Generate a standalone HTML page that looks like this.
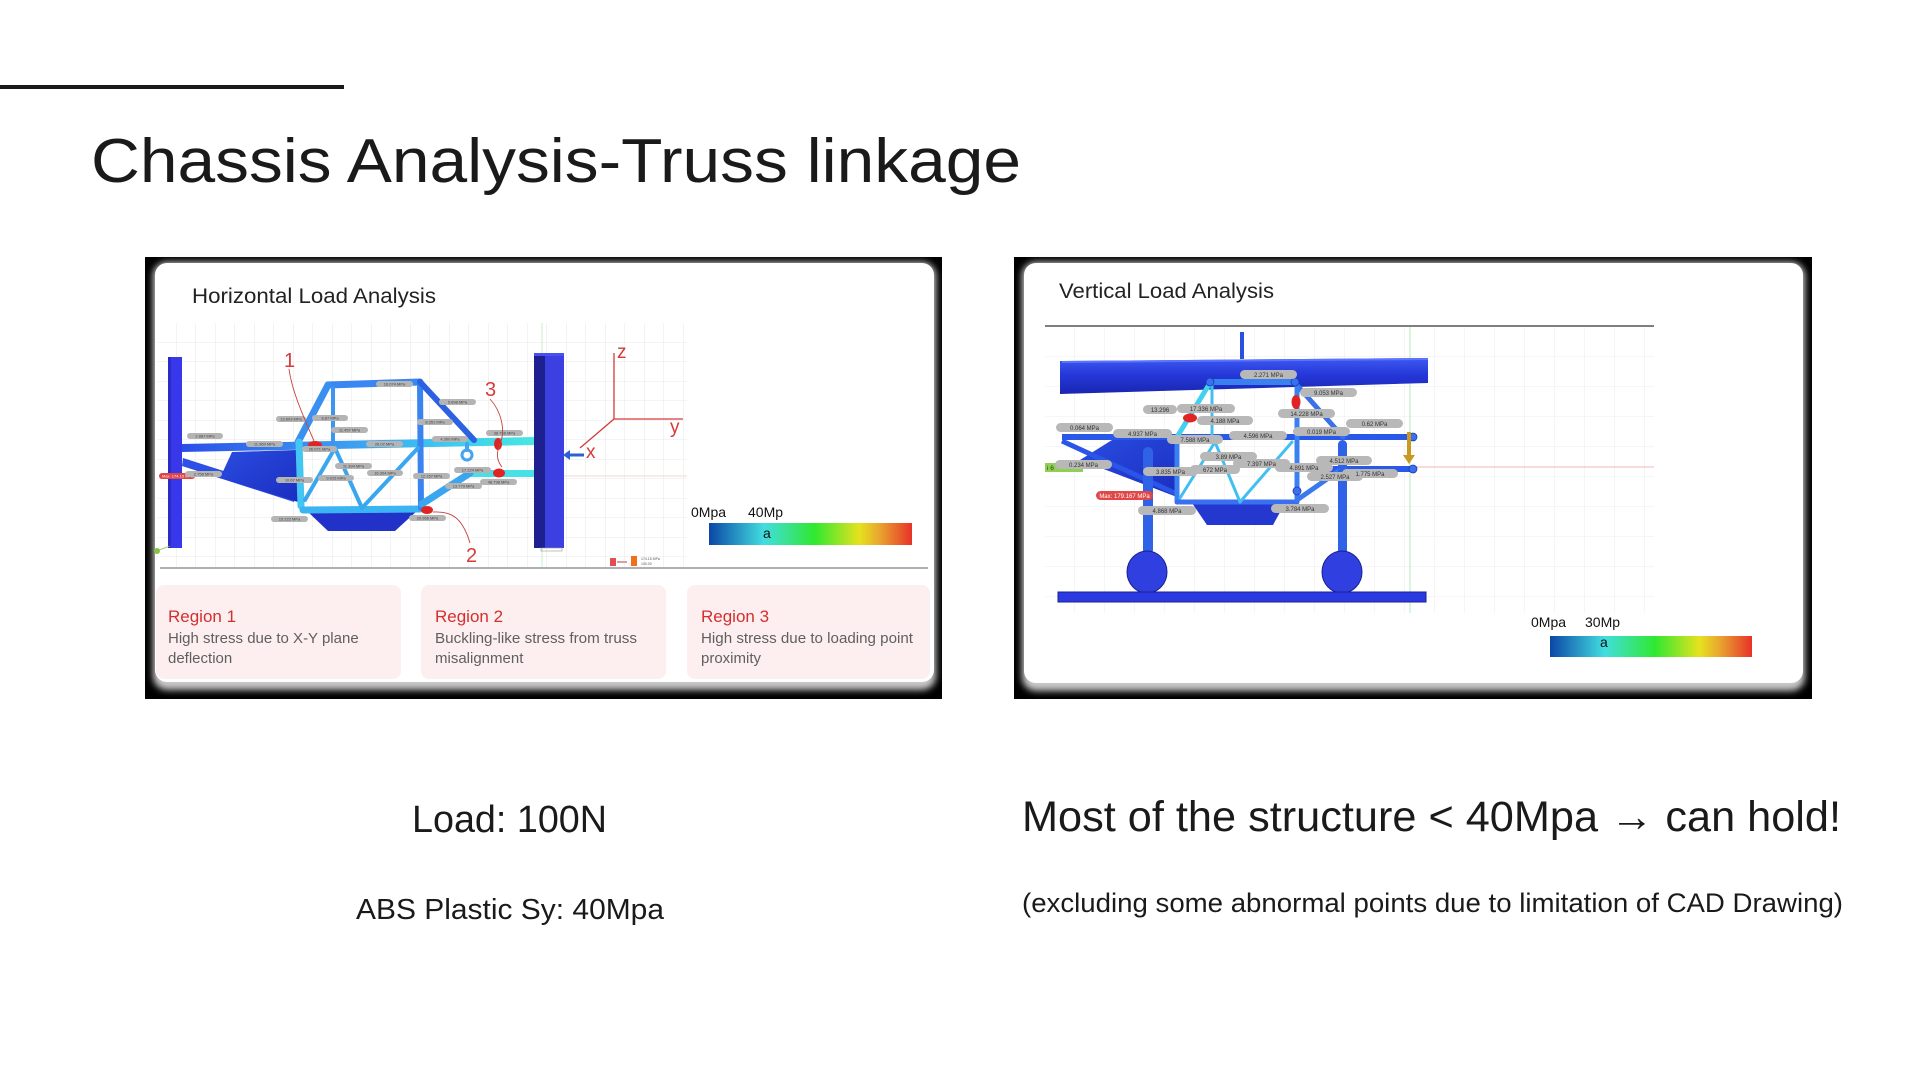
<!DOCTYPE html>
<html><head><meta charset="utf-8"><style>
html,body{margin:0;padding:0;background:#fff;}
body{width:1920px;height:1080px;overflow:hidden;}
svg{display:block;font-family:"Liberation Sans",Arial,sans-serif;}
</style></head><body>
<svg width="1920" height="1080" viewBox="0 0 1920 1080" xmlns="http://www.w3.org/2000/svg">
<defs>
  <filter id="glow" x="-5%" y="-5%" width="110%" height="115%"><feGaussianBlur stdDeviation="3.5"/></filter>
  <linearGradient id="cbar" x1="0" y1="0" x2="1" y2="0">
    <stop offset="0" stop-color="#0b47a6"/>
    <stop offset="0.27" stop-color="#42dde0"/>
    <stop offset="0.52" stop-color="#2fe830"/>
    <stop offset="0.74" stop-color="#e6e21e"/>
    <stop offset="0.84" stop-color="#e9a530"/>
    <stop offset="1" stop-color="#e83228"/>
  </linearGradient>
  <linearGradient id="railL" gradientUnits="userSpaceOnUse" x1="182" y1="0" x2="535" y2="0">
    <stop offset="0" stop-color="#2a4ee8"/>
    <stop offset="0.35" stop-color="#3a8cf0"/>
    <stop offset="0.75" stop-color="#40c8f0"/>
    <stop offset="1" stop-color="#48e8e0"/>
  </linearGradient>
  <linearGradient id="slab" x1="0" y1="0" x2="0" y2="1">
    <stop offset="0" stop-color="#3d58f2"/>
    <stop offset="0.5" stop-color="#2436d6"/>
    <stop offset="1" stop-color="#1a26b0"/>
  </linearGradient>
  <linearGradient id="panel" x1="0" y1="0" x2="1" y2="1">
    <stop offset="0" stop-color="#2a4ce0"/>
    <stop offset="1" stop-color="#1a2ec0"/>
  </linearGradient>
  <pattern id="gridL" x="157" y="323" width="19.5" height="19.5" patternUnits="userSpaceOnUse">
    <path d="M19.5 0V19.5M0 19.5H19.5" stroke="#e2e2e2" stroke-width="0.8" fill="none"/>
  </pattern>
  <pattern id="gridR" x="1045" y="327" width="30" height="30" patternUnits="userSpaceOnUse">
    <path d="M30 0V30M0 30H30" stroke="#e6e6e6" stroke-width="0.8" fill="none"/>
  </pattern>
</defs>

<!-- top accent line and title -->
<rect x="0" y="85" width="344" height="4" fill="#1a1a1a"/>
<text x="91" y="182" font-size="62" fill="#1a1a1a" textLength="930" lengthAdjust="spacingAndGlyphs">Chassis Analysis-Truss linkage</text>

<!-- ================= LEFT PANEL ================= -->
<rect x="145" y="257" width="797" height="442" fill="#000"/>
<rect x="153" y="262" width="783" height="428" rx="14" fill="#c8c8c8" filter="url(#glow)"/>
<rect x="155" y="263" width="779" height="419" rx="12" fill="#fff"/>
<text x="192" y="303" font-size="21.5" fill="#222" textLength="244" lengthAdjust="spacingAndGlyphs">Horizontal Load Analysis</text>

<!-- grid -->
<rect x="157" y="323" width="530" height="244" fill="url(#gridL)"/>
<line x1="542" y1="323" x2="542" y2="567" stroke="#c8ecc8" stroke-width="1"/>
<line x1="564" y1="476" x2="687" y2="476" stroke="#f4d4d4" stroke-width="1"/>
<line x1="160" y1="568" x2="928" y2="568" stroke="#b0b0b0" stroke-width="2"/>

<!-- structure left -->
<rect x="168" y="357" width="14" height="191" fill="#3838ea"/>
<rect x="168" y="357" width="3" height="191" fill="#2a2ac8"/>
<polygon points="182,444 535,437 535,445 182,452" fill="url(#railL)"/>
<polygon points="183,458 296,494 294,502 182,466" fill="#2e50e4"/>
<polygon points="232,452 296,450 298,502 220,478" fill="url(#panel)"/>
<polygon points="468,470 535,470 535,477 468,477" fill="#46e0e6"/>
<polygon points="307,511 418,510 395,531 328,531" fill="#2232c8"/>
<g stroke-linecap="round" fill="none">
  <line x1="328" y1="385" x2="420" y2="382" stroke="#3a86f2" stroke-width="7"/>
  <line x1="328" y1="385" x2="298" y2="442" stroke="#3a90f0" stroke-width="7"/>
  <line x1="299" y1="442" x2="301" y2="506" stroke="#44c6f2" stroke-width="7"/>
  <line x1="303" y1="510" x2="420" y2="509" stroke="#3ab4f2" stroke-width="7"/>
  <line x1="420" y1="382" x2="421" y2="508" stroke="#3a84f0" stroke-width="6"/>
  <line x1="420" y1="382" x2="474" y2="440" stroke="#2c62e2" stroke-width="6"/>
  <line x1="422" y1="504" x2="470" y2="473" stroke="#3aa6f0" stroke-width="7"/>
  <line x1="333" y1="388" x2="333" y2="443" stroke="#3a96f0" stroke-width="4"/>
  <line x1="305" y1="500" x2="335" y2="448" stroke="#3aa6f0" stroke-width="4"/>
  <line x1="335" y1="448" x2="362" y2="508" stroke="#3aa6f0" stroke-width="4"/>
  <line x1="362" y1="508" x2="418" y2="448" stroke="#3aa6f0" stroke-width="4"/>
  <circle cx="467" cy="455" r="5" stroke="#44a4f0" stroke-width="3"/>
  <line x1="467" y1="444" x2="467" y2="450" stroke="#44a4f0" stroke-width="4"/>
</g>
<rect x="534" y="355" width="11" height="193" fill="#1e2090"/>
<rect x="545" y="355" width="19" height="193" fill="#3c40e0"/>
<rect x="534" y="353" width="30" height="3" fill="#4a50f0"/>
<rect x="541" y="548" width="21" height="3" fill="none" stroke="#999" stroke-width="0.6"/>
<line x1="584" y1="455" x2="568" y2="455" stroke="#2a62d2" stroke-width="3"/>
<polygon points="563,455 570,450 570,460" fill="#2a62d2"/>
<circle cx="157" cy="551" r="3" fill="#82c444"/>
<line x1="159" y1="550" x2="170" y2="546" stroke="#82c444" stroke-width="0.8"/>

<!-- red markers -->
<g fill="#e02424">
  <ellipse cx="315" cy="445" rx="7" ry="4"/>
  <ellipse cx="498" cy="444" rx="4" ry="6"/>
  <ellipse cx="499" cy="473" rx="6" ry="4.5"/>
  <ellipse cx="427" cy="510" rx="6" ry="4"/>
</g>
<rect x="159" y="473" width="36" height="6" rx="3" fill="#e04444"/>
<text x="162" y="477.5" font-size="4" fill="#fff">Max: 174.15 MPa</text>

<!-- left labels -->
<g fill="#b4b4b4">
  <rect x="376" y="381" width="37" height="6" rx="3"/>
  <rect x="439" y="399" width="37" height="6" rx="3"/>
  <rect x="276" y="416" width="30" height="6" rx="3"/>
  <rect x="312" y="415" width="36" height="6" rx="3"/>
  <rect x="331" y="427" width="37" height="6" rx="3"/>
  <rect x="417" y="419" width="36" height="6" rx="3"/>
  <rect x="187" y="433" width="36" height="6" rx="3"/>
  <rect x="246" y="441" width="37" height="6" rx="3"/>
  <rect x="302" y="446" width="35" height="6" rx="3"/>
  <rect x="366" y="441" width="37" height="6" rx="3"/>
  <rect x="432" y="436" width="36" height="6" rx="3"/>
  <rect x="486" y="430" width="37" height="6" rx="3"/>
  <rect x="335" y="463" width="37" height="6" rx="3"/>
  <rect x="454" y="467" width="37" height="6" rx="3"/>
  <rect x="185" y="471" width="37" height="6" rx="3"/>
  <rect x="367" y="470" width="36" height="6" rx="3"/>
  <rect x="413" y="473" width="37" height="6" rx="3"/>
  <rect x="276" y="477" width="37" height="6" rx="3"/>
  <rect x="318" y="475" width="36" height="6" rx="3"/>
  <rect x="480" y="479" width="37" height="6" rx="3"/>
  <rect x="445" y="483" width="37" height="6" rx="3"/>
  <rect x="271" y="516" width="37" height="6" rx="3"/>
  <rect x="409" y="515" width="37" height="6" rx="3"/>
</g>
<g font-size="4" fill="#444" text-anchor="middle">
  <text x="394.5" y="385.5">16.074 MPa</text>
  <text x="457.5" y="403.5">5.698 MPa</text>
  <text x="291" y="420.5">13.603 MPa</text>
  <text x="330" y="419.5">8.87 MPa</text>
  <text x="349.5" y="431.5">11.457 MPa</text>
  <text x="435" y="423.5">8.351 MPa</text>
  <text x="205" y="437.5">2.887 MPa</text>
  <text x="264.5" y="445.5">11.960 MPa</text>
  <text x="319.5" y="450.5">26.071 MPa</text>
  <text x="384.5" y="445.5">26.02 MPa</text>
  <text x="450" y="440.5">4.300 MPa</text>
  <text x="504.5" y="434.5">38.756 MPa</text>
  <text x="353.5" y="467.5">11.394 MPa</text>
  <text x="472.5" y="471.5">17.224 MPa</text>
  <text x="203.5" y="475.5">2.758 MPa</text>
  <text x="385" y="474.5">16.304 MPa</text>
  <text x="431.5" y="477.5">12.157 MPa</text>
  <text x="294.5" y="481.5">10.67 MPa</text>
  <text x="336" y="479.5">9.915 MPa</text>
  <text x="498.5" y="483.5">48.798 MPa</text>
  <text x="463.5" y="487.5">13.779 MPa</text>
  <text x="289.5" y="520.5">15.222 MPa</text>
  <text x="427.5" y="519.5">29.966 MPa</text>
</g>

<!-- annotations -->
<g stroke="#c84040" stroke-width="0.9" fill="none">
  <path d="M289,369 C292,392 305,420 314,441"/>
  <path d="M490,399 C501,411 506,430 500,444 C496,453 497,461 502,467"/>
  <path d="M433,512 C450,511 462,516 470,543"/>
</g>
<g font-size="20" fill="#d63a3a">
  <text x="284" y="367">1</text>
  <text x="485" y="396">3</text>
  <text x="466" y="562">2</text>
</g>
<g stroke="#d43a3a" stroke-width="1.3">
  <line x1="614" y1="353" x2="614" y2="419"/>
  <line x1="614" y1="419" x2="683" y2="419"/>
  <line x1="614" y1="419" x2="580" y2="448"/>
</g>
<g font-size="19" fill="#d43a3a">
  <text x="617" y="358">z</text>
  <text x="670" y="433">y</text>
  <text x="586" y="458">x</text>
</g>
<!-- tiny legend -->
<rect x="610" y="558" width="6" height="8" fill="#e05050"/>
<rect x="617" y="561" width="10" height="2" fill="#d8a0a0"/>
<rect x="631" y="556" width="6" height="10" fill="#f07020"/>
<text x="641" y="560" font-size="3.5" fill="#555">174.15 MPa</text>
<text x="641" y="565" font-size="3.5" fill="#555">100.00</text>

<!-- colorbar left -->
<text x="691" y="517" font-size="14" fill="#111">0Mpa</text>
<text x="748" y="517" font-size="14" fill="#111">40Mp</text>
<rect x="709" y="523" width="203" height="22" fill="url(#cbar)"/>
<text x="763" y="538" font-size="14" fill="#111">a</text>

<!-- region cards -->
<rect x="156" y="585" width="245" height="94" rx="8" fill="#fdefef"/>
<rect x="421" y="585" width="245" height="94" rx="8" fill="#fdefef"/>
<rect x="687" y="585" width="243" height="94" rx="8" fill="#fdefef"/>
<g font-size="17" fill="#d32f2f">
  <text x="168" y="622">Region 1</text>
  <text x="435" y="622">Region 2</text>
  <text x="701" y="622">Region 3</text>
</g>
<g font-size="15" fill="#5f5f5f">
  <text x="168" y="643">High stress due to X-Y plane</text>
  <text x="168" y="663">deflection</text>
  <text x="435" y="643" textLength="202" lengthAdjust="spacingAndGlyphs">Buckling-like stress from truss</text>
  <text x="435" y="663">misalignment</text>
  <text x="701" y="643" textLength="212" lengthAdjust="spacingAndGlyphs">High stress due to loading point</text>
  <text x="701" y="663">proximity</text>
</g>

<!-- ================= RIGHT PANEL ================= -->
<rect x="1014" y="257" width="798" height="442" fill="#000"/>
<rect x="1022" y="262" width="783" height="429" rx="14" fill="#c8c8c8" filter="url(#glow)"/>
<rect x="1024" y="263" width="779" height="420" rx="12" fill="#fff"/>
<text x="1059" y="298" font-size="21.5" fill="#222" textLength="215" lengthAdjust="spacingAndGlyphs">Vertical Load Analysis</text>

<rect x="1045" y="327" width="609" height="286" fill="url(#gridR)"/>
<line x1="1045" y1="326" x2="1654" y2="326" stroke="#555" stroke-width="1.5"/>
<line x1="1410" y1="327" x2="1410" y2="613" stroke="#b8e8b8" stroke-width="1"/>
<line x1="1415" y1="467" x2="1654" y2="467" stroke="#f0b8b8" stroke-width="1"/>

<!-- structure right -->
<rect x="1240" y="332" width="4" height="27" fill="#2a50e0"/>
<polygon points="1060,361 1428,358 1428,383 1060,394" fill="url(#slab)"/>
<line x1="1062" y1="362" x2="1428" y2="359" stroke="#5a74ff" stroke-width="2"/>
<rect x="1062" y="434" width="351" height="6" fill="#2a58e8"/>
<polygon points="1112,440 1175,440 1177,497 1080,460" fill="url(#panel)"/>
<line x1="1062" y1="441" x2="1177" y2="494" stroke="#2a55e8" stroke-width="5"/>
<rect x="1317" y="466" width="96" height="6" fill="#2a58e8"/>
<polygon points="1192,503 1285,503 1273,525 1207,525" fill="#2438d0"/>
<g stroke-linecap="round" fill="none">
  <line x1="1210" y1="382" x2="1295" y2="382" stroke="#3a80f0" stroke-width="6"/>
  <line x1="1210" y1="383" x2="1177" y2="437" stroke="#40d0f0" stroke-width="5"/>
  <line x1="1295" y1="383" x2="1343" y2="437" stroke="#3a70e8" stroke-width="5"/>
  <line x1="1212" y1="385" x2="1212" y2="437" stroke="#40c0f0" stroke-width="3"/>
  <line x1="1297" y1="385" x2="1297" y2="500" stroke="#3a80f0" stroke-width="5"/>
  <line x1="1177" y1="440" x2="1177" y2="502" stroke="#3a80f0" stroke-width="5"/>
  <line x1="1177" y1="502" x2="1297" y2="502" stroke="#3a70f0" stroke-width="5"/>
  <line x1="1297" y1="500" x2="1340" y2="470" stroke="#3a78ee" stroke-width="5"/>
  <line x1="1180" y1="498" x2="1215" y2="442" stroke="#40c0f0" stroke-width="3"/>
  <line x1="1215" y1="442" x2="1240" y2="502" stroke="#40c0f0" stroke-width="3"/>
  <line x1="1240" y1="502" x2="1292" y2="442" stroke="#40c0f0" stroke-width="3"/>
</g>
<g fill="#3a70f0" stroke="#1a3ab0" stroke-width="0.8">
  <circle cx="1210" cy="382" r="4"/>
  <circle cx="1295" cy="382" r="4"/>
  <circle cx="1297" cy="491" r="4"/>
  <circle cx="1413" cy="437" r="4"/>
  <circle cx="1413" cy="469" r="4"/>
</g>
<rect x="1143" y="447" width="10" height="108" rx="5" fill="#3062e8"/>
<rect x="1338" y="440" width="9" height="115" rx="4.5" fill="#3062e8"/>
<g fill="#3040e0" stroke="#1a2090" stroke-width="1">
  <ellipse cx="1147" cy="572" rx="20" ry="21"/>
  <ellipse cx="1342" cy="572" rx="20" ry="21"/>
</g>
<rect x="1058" y="592" width="368" height="10" fill="#2a3ae0" stroke="#1a2090" stroke-width="1"/>
<line x1="1409" y1="432" x2="1409" y2="457" stroke="#c89a20" stroke-width="4"/>
<polygon points="1403,455 1415,455 1409,464" fill="#c89a20"/>
<rect x="1045" y="463" width="38" height="9" fill="#90d050"/>
<text x="1047" y="470" font-size="6.5" fill="#333">i 6</text>

<g fill="#e02424">
  <ellipse cx="1190" cy="418" rx="7" ry="4.5"/>
  <ellipse cx="1296" cy="402" rx="4.5" ry="7"/>
</g>
<rect x="1096" y="491" width="57" height="9" rx="4.5" fill="#e04848"/>
<text x="1124.5" y="497.8" font-size="6" fill="#fff" text-anchor="middle">Max: 179.167 MPa</text>

<g fill="#b8b8b8">
  <rect x="1240" y="370" width="57" height="9" rx="4.5"/>
  <rect x="1300" y="388" width="57" height="9" rx="4.5"/>
  <rect x="1143" y="405" width="34" height="9" rx="4.5"/>
  <rect x="1177" y="404" width="58" height="9" rx="4.5"/>
  <rect x="1278" y="409" width="57" height="9" rx="4.5"/>
  <rect x="1197" y="416" width="56" height="9" rx="4.5"/>
  <rect x="1056" y="423" width="57" height="9" rx="4.5"/>
  <rect x="1346" y="419" width="57" height="9" rx="4.5"/>
  <rect x="1113" y="429" width="59" height="9" rx="4.5"/>
  <rect x="1293" y="427" width="57" height="9" rx="4.5"/>
  <rect x="1229" y="431" width="58" height="9" rx="4.5"/>
  <rect x="1167" y="435" width="56" height="9" rx="4.5"/>
  <rect x="1200" y="452" width="57" height="9" rx="4.5"/>
  <rect x="1233" y="459" width="57" height="9" rx="4.5"/>
  <rect x="1316" y="456" width="56" height="9" rx="4.5"/>
  <rect x="1055" y="460" width="57" height="9" rx="4.5"/>
  <rect x="1275" y="463" width="58" height="9" rx="4.5"/>
  <rect x="1143" y="467" width="55" height="9" rx="4.5"/>
  <rect x="1190" y="465" width="50" height="9" rx="4.5"/>
  <rect x="1342" y="469" width="56" height="9" rx="4.5"/>
  <rect x="1307" y="472" width="56" height="9" rx="4.5"/>
  <rect x="1138" y="506" width="58" height="9" rx="4.5"/>
  <rect x="1271" y="504" width="58" height="9" rx="4.5"/>
</g>
<g font-size="6" fill="#333" text-anchor="middle">
  <text x="1268.5" y="376.8">2.271 MPa</text>
  <text x="1328.5" y="394.8">9.053 MPa</text>
  <text x="1160" y="411.8">13.296</text>
  <text x="1206" y="410.8">17.336 MPa</text>
  <text x="1306.5" y="415.8">14.228 MPa</text>
  <text x="1225" y="422.8">4.188 MPa</text>
  <text x="1084.5" y="429.8">0.064 MPa</text>
  <text x="1374.5" y="425.8">0.62 MPa</text>
  <text x="1142.5" y="435.8">4.937 MPa</text>
  <text x="1321.5" y="433.8">0.019 MPa</text>
  <text x="1258" y="437.8">4.596 MPa</text>
  <text x="1195" y="441.8">7.588 MPa</text>
  <text x="1228.5" y="458.8">3.89 MPa</text>
  <text x="1261.5" y="465.8">7.397 MPa</text>
  <text x="1344" y="462.8">4.512 MPa</text>
  <text x="1083.5" y="466.8">0.234 MPa</text>
  <text x="1304" y="469.8">4.891 MPa</text>
  <text x="1170.5" y="473.8">3.835 MPa</text>
  <text x="1215" y="471.8">672 MPa</text>
  <text x="1370" y="475.8">1.775 MPa</text>
  <text x="1335" y="478.8">2.527 MPa</text>
  <text x="1167" y="512.8">4.868 MPa</text>
  <text x="1300" y="510.8">3.784 MPa</text>
</g>

<!-- colorbar right -->
<text x="1531" y="627" font-size="14" fill="#111">0Mpa</text>
<text x="1585" y="627" font-size="14" fill="#111">30Mp</text>
<rect x="1550" y="636" width="202" height="21" fill="url(#cbar)"/>
<text x="1600" y="647" font-size="14" fill="#111">a</text>

<!-- ================= BOTTOM TEXT ================= -->
<text x="412" y="832" font-size="38" fill="#1a1a1a" textLength="195" lengthAdjust="spacingAndGlyphs">Load: 100N</text>
<text x="356" y="919" font-size="29" fill="#1a1a1a" textLength="308" lengthAdjust="spacingAndGlyphs">ABS Plastic Sy: 40Mpa</text>
<text x="1022" y="831" font-size="43" fill="#1a1a1a" textLength="819" lengthAdjust="spacingAndGlyphs">Most of the structure &lt; 40Mpa → can hold!</text>
<text x="1022" y="912" font-size="27" fill="#1a1a1a" textLength="821" lengthAdjust="spacingAndGlyphs">(excluding some abnormal points due to limitation of CAD Drawing)</text>
</svg>
</body></html>
